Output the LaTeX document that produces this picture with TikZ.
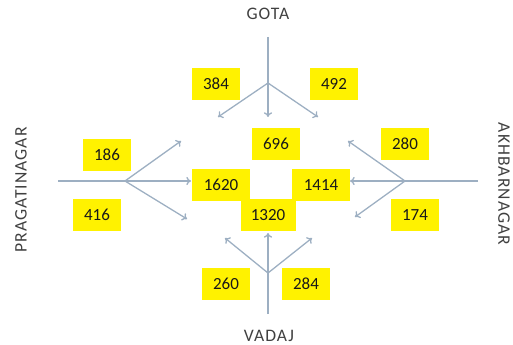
\documentclass[tikz,border=0pt]{standalone}
\usepackage{fontspec}
\setmainfont{Carlito}
\usetikzlibrary{positioning,arrows.meta}
\definecolor{flowline}{HTML}{9DAFC2}
\definecolor{countfill}{HTML}{FFF200}
\definecolor{labelgray}{HTML}{404040}
\tikzstyle{cnt}=[fill=countfill, text=black!90, minimum height = 0.95cm, minimum width=1.45cm, inner sep=0pt, font=\fontsize{14.5}{16}\selectfont]
\tikzstyle{place}=[text=labelgray, inner sep=0pt, font=\fontsize{15}{17}\selectfont\addfontfeatures{LetterSpace=6}]
\tikzstyle{flow}=[draw=flowline, line width=1.1pt]

\begin{document}
\begin{tikzpicture}[x=0.03cm,y=-0.03cm,>={To[length=4pt,width=7pt]}]
\useasboundingbox (0,0) rectangle (513,345);

% junction labels
\node[place] at (268,14) (gota) {GOTA};
\node[place] at (269,336) (vadaj) {VADAJ};
\node[place, rotate=90] at (21,190) (pragati) {PRAGATINAGAR};
\node[place, rotate=-90] at (504,184) (akhbar) {AKHBARNAGAR};

% branch points and ends
\coordinate (gTop) at (268,37);  \coordinate (gMid) at (268,83);
\coordinate (gL) at (218,117);   \coordinate (gS) at (268,117);  \coordinate (gR) at (318,117);
\coordinate (pTop) at (58,181);  \coordinate (pMid) at (125,181);
\coordinate (pL) at (181,141);   \coordinate (pS) at (191,181);  \coordinate (pR) at (187,219);
\coordinate (aTop) at (478,181); \coordinate (aMid) at (405,181);
\coordinate (aL) at (348,141);   \coordinate (aS) at (350,181);  \coordinate (aR) at (355,217);
\coordinate (vTop) at (268,314); \coordinate (vMid) at (268,273);
\coordinate (vL) at (225,238);   \coordinate (vS) at (268,233);  \coordinate (vR) at (312,238);

\draw[flow] (gTop) -- (gMid);
\draw[flow,->] (gMid) -- (gL);
\draw[flow,->] (gMid) -- (gS);
\draw[flow,->] (gMid) -- (gR);

\draw[flow] (pTop) -- (pMid);
\draw[flow,->] (pMid) -- (pL);
\draw[flow,->] (pMid) -- (pS);
\draw[flow,->] (pMid) -- (pR);

\draw[flow] (aTop) -- (aMid);
\draw[flow,->] (aMid) -- (aL);
\draw[flow,->] (aMid) -- (aS);
\draw[flow,->] (aMid) -- (aR);

\draw[flow] (vTop) -- (vMid);
\draw[flow,->] (vMid) -- (vL);
\draw[flow,->] (vMid) -- (vS);
\draw[flow,->] (vMid) -- (vR);

% turning counts
\node[cnt] at (216,84) (c384) {384};
\node[cnt] at (334,84) (c492) {492};
\node[cnt] at (107,155) (c186) {186};
\node[cnt] at (97,215) (c416) {416};
\node[cnt] at (405,144) (c280) {280};
\node[cnt] at (415,215) (c174) {174};
\node[cnt] at (226,284) (c260) {260};
\node[cnt] at (306,284) (c284) {284};

% totals
\node[cnt] at (276,144) (c696) {696};
\node[cnt, minimum width=1.75cm] at (221,185) (c1620) {1620};
\node[cnt, minimum width=1.75cm] at (321,185) (c1414) {1414};
\node[cnt, minimum width=1.65cm] at (268,215) (c1320) {1320};
\end{tikzpicture}
\end{document}
